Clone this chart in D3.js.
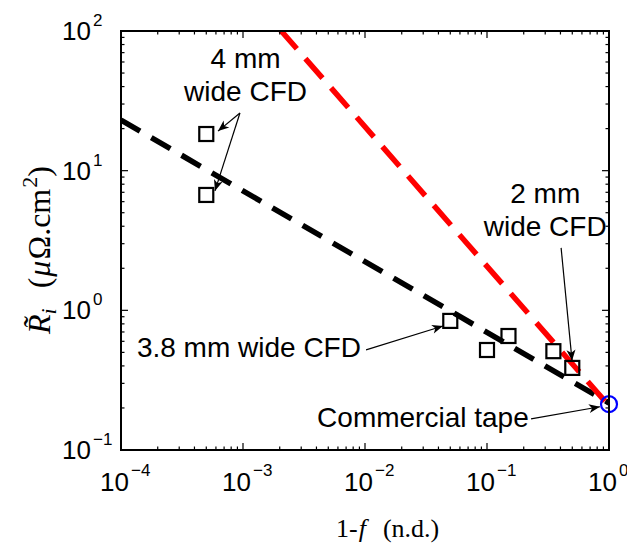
<!DOCTYPE html>
<html>
<head>
<meta charset="utf-8">
<script src="https://cdn.jsdelivr.net/npm/d3@7"></script>
<style>
  body { margin: 0; background: #fff; }
</style>
</head>
<body>
<script>
// axis ranges and ticks
const xDomain = [1e-4, 1];
const yDomain = [1e-1, 1e2];
const xTickVals = [1e-4, 1e-3, 1e-2, 1e-1, 1];
const xTickExp = ["\u22124", "\u22123", "\u22122", "\u22121", "0"];
const yTickVals = [1e-1, 1, 1e1, 1e2];
const yTickExp = ["\u22121", "0", "1", "2"];

// fitted trends (end points)
const blackFit = [[1e-4, 23], [1, 0.217]];
const redFit = [[2e-3, 103], [1, 0.207]];

// CFD results (squares)
const cfdX = [5e-4, 5e-4, 0.05, 0.1, 0.15, 0.35, 0.5];
const cfdY = [18.3, 6.7, 0.84, 0.52, 0.655, 0.51, 0.387];

// commercial tape (circle)
const tapeX = [1];
const tapeY = [0.213];

// annotations, in data units
const notes = [
  { lines: ["4 mm", "wide CFD"], at: [1.05e-3, 54], anchor: "middle",
    arrows: [[[9.44e-4, 25.9], [6.24e-4, 19.2]], [[9.44e-4, 25.9], [5.89e-4, 7.16]]] },
  { lines: ["2 mm", "wide CFD"], at: [0.30, 5.87], anchor: "middle",
    arrows: [[[0.405, 2.80], [0.498, 0.435]]] },
  { lines: ["3.8 mm wide CFD"], at: [1.35e-4, 0.463], anchor: "start",
    arrows: [[[0.0102, 0.521], [0.0436, 0.773]]] },
  { lines: ["Commercial tape"], at: [4.05e-3, 0.146], anchor: "start",
    arrows: [[[0.2296, 0.167], [0.843, 0.204]]] }
];

const width = 627, height = 549;
const margin = { top: 31, right: 18, bottom: 99, left: 121 };
const sans = "'Liberation Sans', Arial, Helvetica, sans-serif";
const serif = "'Liberation Serif', 'Times New Roman', serif";

const svg = d3.select("body").append("svg")
    .attr("width", width)
    .attr("height", height)
    .style("background", "#fff");

const x = d3.scaleLog().domain(xDomain).range([margin.left, width - margin.right]);
const y = d3.scaleLog().domain(yDomain).range([height - margin.bottom, margin.top]);

const defs = svg.append("defs");
defs.append("clipPath").attr("id", "plot")
  .append("rect")
    .attr("x", margin.left).attr("y", margin.top)
    .attr("width", x.range()[1] - x.range()[0])
    .attr("height", y.range()[0] - y.range()[1]);

defs.append("marker")
    .attr("id", "head")
    .attr("markerUnits", "userSpaceOnUse")
    .attr("viewBox", "-12 -6 13 12")
    .attr("markerWidth", 13).attr("markerHeight", 12)
    .attr("refX", 0).attr("refY", 0)
    .attr("orient", "auto")
  .append("path")
    .attr("d", "M0,0 L-11,-4.5 L-8,0 L-11,4.5 Z")
    .attr("fill", "#000");

// fit lines
const line = d3.line().x(d => x(d[0])).y(d => y(d[1]));
const fits = svg.append("g").attr("clip-path", "url(#plot)").attr("fill", "none");
fits.append("path")
    .attr("d", line(blackFit))
    .attr("stroke", "#000")
    .attr("stroke-width", 5.5)
    .attr("stroke-dasharray", "22,13");
fits.append("path")
    .attr("d", line(redFit))
    .attr("stroke", "#ff0000")
    .attr("stroke-width", 5.5)
    .attr("stroke-dasharray", "26,13");

// squares
svg.append("g")
    .attr("fill", "none")
    .attr("stroke", "#000")
    .attr("stroke-width", 2.2)
  .selectAll("rect")
  .data(d3.range(cfdX.length))
  .join("rect")
    .attr("x", i => x(cfdX[i]) - 7)
    .attr("y", i => y(cfdY[i]) - 7)
    .attr("width", 14)
    .attr("height", 14);

// circle
svg.append("g")
  .selectAll("circle")
  .data(d3.range(tapeX.length))
  .join("circle")
    .attr("cx", i => x(tapeX[i]))
    .attr("cy", i => y(tapeY[i]))
    .attr("r", 8)
    .attr("fill", "none")
    .attr("stroke", "#0000ff")
    .attr("stroke-width", 2.2);

// axes box and ticks
const x0 = x.range()[0], x1 = x.range()[1];
const y0 = y.range()[0], y1 = y.range()[1];
const isMajor = v => Math.abs(Math.log10(v) - Math.round(Math.log10(v))) < 1e-9;

const axes = svg.append("g").attr("stroke", "#000").attr("stroke-width", 1.2);
x.ticks().forEach(v => {
  if (v <= xDomain[0] || v >= xDomain[1]) return;
  const len = isMajor(v) ? 7 : 3.5;
  axes.append("line").attr("x1", x(v)).attr("x2", x(v)).attr("y1", y0).attr("y2", y0 - len);
  axes.append("line").attr("x1", x(v)).attr("x2", x(v)).attr("y1", y1).attr("y2", y1 + len);
});
y.ticks().forEach(v => {
  if (v <= yDomain[0] || v >= yDomain[1]) return;
  const len = isMajor(v) ? 7 : 3.5;
  axes.append("line").attr("y1", y(v)).attr("y2", y(v)).attr("x1", x0).attr("x2", x0 + len);
  axes.append("line").attr("y1", y(v)).attr("y2", y(v)).attr("x1", x1).attr("x2", x1 - len);
});
svg.append("rect")
    .attr("x", x0).attr("y", y1)
    .attr("width", x1 - x0).attr("height", y0 - y1)
    .attr("fill", "none")
    .attr("stroke", "#000")
    .attr("stroke-width", 2);

// tick labels
const xl = svg.append("g").attr("font-family", sans).attr("fill", "#000");
xTickVals.forEach((v, i) => {
  xl.append("text").attr("x", x(v) + 8).attr("y", 491)
    .attr("text-anchor", "end").attr("font-size", 26).text("10");
  xl.append("text").attr("x", x(v) + 10).attr("y", 476)
    .attr("font-size", 17).text(xTickExp[i]);
});
const yl = svg.append("g").attr("font-family", sans).attr("fill", "#000");
yTickVals.forEach((v, i) => {
  yl.append("text").attr("x", 91).attr("y", y(v) + 9)
    .attr("text-anchor", "end").attr("font-size", 26).text("10");
  yl.append("text").attr("x", 93).attr("y", y(v) - 5)
    .attr("font-size", 17).text(yTickExp[i]);
});

// annotations
const ann = svg.append("g");
notes.forEach(n => {
  const t = ann.append("text")
      .attr("font-family", sans)
      .attr("font-size", 28)
      .attr("text-anchor", n.anchor)
      .attr("x", x(n.at[0]))
      .attr("y", y(n.at[1]));
  n.lines.forEach((s, k) => {
    t.append("tspan").attr("x", x(n.at[0])).attr("dy", k ? 33 : 0).text(s);
  });
  n.arrows.forEach(a => {
    ann.append("line")
        .attr("x1", x(a[0][0])).attr("y1", y(a[0][1]))
        .attr("x2", x(a[1][0])).attr("y2", y(a[1][1]))
        .attr("stroke", "#000")
        .attr("stroke-width", 1.2)
        .attr("marker-end", "url(#head)");
  });
});

// axis titles
const xt = svg.append("text")
    .attr("font-family", serif)
    .attr("font-size", 26)
    .attr("x", 336).attr("y", 537);
xt.append("tspan").text("1-");
xt.append("tspan").attr("font-style", "italic").attr("dx", 1).text("f");
xt.append("tspan").attr("dx", 4).text("\u00a0\u00a0(n.d.)");

const yt = svg.append("text")
    .attr("font-family", serif)
    .attr("font-size", 32)
    .attr("transform", "translate(50,334) rotate(-90)");
yt.append("tspan").attr("font-style", "italic").text("R\u0303");
yt.append("tspan").attr("font-style", "italic").attr("font-size", 22).attr("dy", 6).text("i");
yt.append("tspan").attr("dy", -6).attr("dx", 4).text("\u00a0\u00a0(");
yt.append("tspan").attr("font-style", "italic").attr("dx", 1).text("\u03bc");
yt.append("tspan").attr("dx", 1).text("\u03a9.cm");
yt.append("tspan").attr("font-size", 22).attr("dy", -13).attr("dx", 1).text("2");
yt.append("tspan").attr("dy", 13).text(")");
</script>
</body>
</html>
